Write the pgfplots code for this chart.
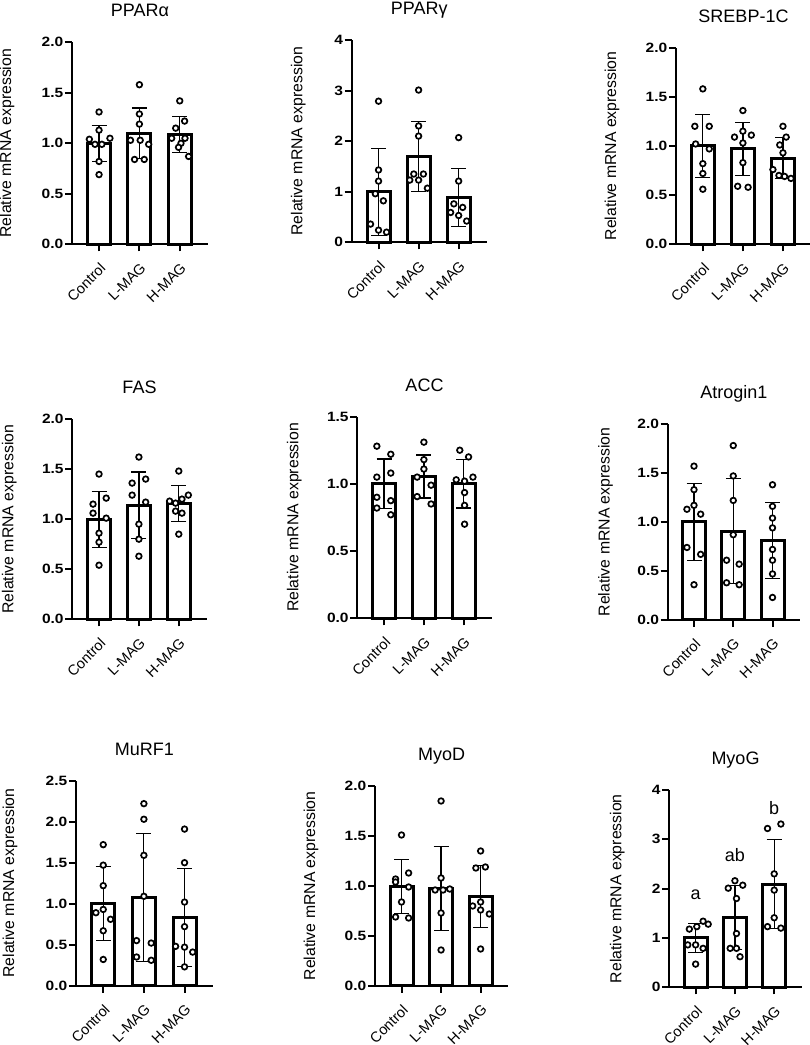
\documentclass[border=0pt]{standalone}
\usepackage{fontspec}
\setmainfont{Liberation Sans}
\newfontfamily\tickfont[FakeStretch=1.15]{Liberation Sans}
\usepackage{pgfplots}
\pgfplotsset{compat=1.18}

\pgfplotsset{
  panel/.style={
    scale only axis,
    xmin=-0.67, xmax=2.7, ymin=0,
    axis lines*=left,
    axis line style={line width=2pt, black},
    tick align=outside,
    major tick length=7pt,
    tick style={line width=2pt, black},
    xtick={0,1,2},
    xticklabels={Control,L-MAG,H-MAG},
    xticklabel shift=9pt,
    xticklabel style={rotate=45, anchor=north east, inner sep=1pt,
      font=\fontsize{14.5}{14.5}\selectfont},
    yticklabel style={font=\tickfont\bfseries\fontsize{13.5}{13.5}\selectfont, inner sep=1.5pt},
    ylabel={Relative mRNA expression},
    ylabel style={font=\fontsize{15.8}{15.8}\selectfont, anchor=center},
    title style={font=\fontsize{18}{18}\selectfont,
      at={(axis description cs:0.5,1)}, anchor=base, yshift=19.5pt},
    clip=false,
    anchor=south west,
  },
  bars/.style={ybar, bar shift=0pt, bar width=23pt, fill=white, draw=black,
    line width=3pt,
    error bars/y dir=both, error bars/y explicit,
    error bars/error bar style={line width=1.2pt, black},
    error bars/error mark options={line width=1.2pt, mark size=7.5pt, black, rotate=90}},
  pts/.style={only marks, mark=*, mark size=2.8pt,
    mark options={fill=white, draw=black, line width=1.7pt}},
}

\begin{document}
\begin{tikzpicture}
\useasboundingbox (0,0) rectangle (810pt,1045pt);

% ---------------- PPARalpha
\begin{axis}[panel, at={(72pt,800.7pt)}, width=136pt, height=202pt,
  ymax=2, ytick={0,0.5,1,1.5,2}, yticklabels={0.0,0.5,1.0,1.5,2.0},
  ylabel style={at={(axis description cs:-0.478,0.5)}}, title={PPARα}]
\addplot[bars] table[x=x, y=m, y error=sd] {
x m sd
0 1.00 0.18
1 1.10 0.25
2 1.085 0.18
};
\addplot[pts] table {
x y
0 1.31
0 1.13
-0.24 1.04
0.27 1.05
-0.1 0.99
0.07 0.99
0 0.82
0 0.69
1 1.58
1 1.29
1 1.19
0.78 1.03
1.02 1.03
1.23 0.99
0.88 0.84
1.12 0.84
2 1.42
2.12 1.22
1.9 1.15
2.03 1.00
1.8 1.05
2.13 1.05
1.97 0.96
2.22 0.87
};
\end{axis}

% ---------------- PPARgamma
\begin{axis}[panel, at={(351.7pt,802.7pt)}, width=135pt, height=202.3pt,
  ymax=4, ytick={0,1,2,3,4}, yticklabels={0,1,2,3,4},
  ylabel style={at={(axis description cs:-0.396,0.5)}}, title={PPARγ}]
\addplot[bars] table[x=x, y=m, y error=sd] {
x m sd
0 1.00 0.86
1 1.70 0.69
2 0.89 0.57
};
\addplot[pts] table {
x y
0 2.79
0 1.43
0 1.21
-0.08 0.96
0.12 0.82
-0.2 0.36
0 0.24
0.2 0.20
1 3.01
1 2.30
1 2.10
0.78 1.23
0.88 1.35
1.0 1.23
1.12 1.35
1.22 1.07
2 2.07
2 1.21
1.88 0.76
2.1 0.69
1.8 0.59
2 0.53
2.2 0.42
};
\end{axis}

% ---------------- SREBP-1C
\begin{axis}[panel, at={(676pt,800.7pt)}, width=135pt, height=196.7pt,
  ymax=2, ytick={0,0.5,1,1.5,2}, yticklabels={0.0,0.5,1.0,1.5,2.0},
  ylabel style={at={(axis description cs:-0.474,0.5)}}, title={SREBP-1C}]
\addplot[bars] table[x=x, y=m, y error=sd] {
x m sd
0 1.00 0.32
1 0.97 0.27
2 0.875 0.21
};
\addplot[pts] table {
x y
0 1.58
-0.2 1.20
0.16 1.20
-0.18 1.02
0.16 0.97
0 0.82
0 0.72
0 0.56
1 1.36
0.79 1.09
1 1.15
1.21 1.11
1 1.03
1 0.83
0.87 0.59
1.13 0.58
2 1.20
2.08 1.09
1.92 1.01
2 0.93
1.75 0.76
1.9 0.70
2.04 0.69
2.2 0.67
};
\end{axis}

% ---------------- FAS
\begin{axis}[panel, at={(72.3pt,425.7pt)}, width=134.4pt, height=200.3pt,
  ymax=2, ytick={0,0.5,1,1.5,2}, yticklabels={0.0,0.5,1.0,1.5,2.0},
  ylabel style={at={(axis description cs:-0.469,0.5)}}, title={FAS}]
\addplot[bars] table[x=x, y=m, y error=sd] {
x m sd
0 1.00 0.28
1 1.14 0.33
2 1.155 0.18
};
\addplot[pts] table {
x y
0 1.45
0.18 1.21
-0.15 1.15
-0.15 1.06
0.18 1.01
0 0.86
0 0.77
0 0.54
1 1.62
0.83 1.36
1.17 1.40
0.83 1.24
1.17 1.17
1 0.95
1 0.80
1 0.63
2 1.48
2.24 1.24
1.77 1.18
2.08 1.20
1.92 1.16
1.92 1.08
2.08 1.06
2 0.85
};
\end{axis}

% ---------------- ACC
\begin{axis}[panel, at={(357.3pt,426.7pt)}, width=134.4pt, height=201.7pt,
  ymax=1.5, ytick={0,0.5,1,1.5}, yticklabels={0.0,0.5,1.0,1.5},
  ylabel style={at={(axis description cs:-0.469,0.5)}}, title={ACC}]
\addplot[bars] table[x=x, y=m, y error=sd] {
x m sd
0 1.00 0.185
1 1.055 0.16
2 1.00 0.18
};
\addplot[pts] table {
x y
-0.18 1.28
0.17 1.22
-0.18 1.05
0.17 1.08
-0.18 0.90
0.17 0.875
-0.18 0.82
0.17 0.77
1 1.31
1 1.18
1 1.11
0.83 1.05
1.18 0.99
0.83 0.905
1.18 0.85
1.9 1.25
2.12 1.20
1.81 1.03
2.02 1.02
2.23 1.05
2.02 0.935
2.02 0.84
2.02 0.70
};
\end{axis}

% ---------------- Atrogin1
\begin{axis}[panel, at={(667.7pt,425pt)}, width=132.3pt, height=196pt,
  ymax=2, ytick={0,0.5,1,1.5,2}, yticklabels={0.0,0.5,1.0,1.5,2.0},
  ylabel style={at={(axis description cs:-0.469,0.5)}}, title={Atrogin1}]
\addplot[bars] table[x=x, y=m, y error=sd] {
x m sd
0 1.00 0.39
1 0.905 0.535
2 0.81 0.385
};
\addplot[pts] table {
x y
0 1.57
0 1.33
-0.18 1.13
0 1.17
0.17 1.08
-0.18 0.74
0.17 0.67
0 0.36
1 1.78
1 1.47
1 1.22
1 0.87
0.83 0.61
1.15 0.57
0.83 0.38
1.15 0.36
2 1.38
2 1.16
2 1.04
2 0.94
2 0.72
2 0.61
2 0.47
2 0.23
};
\end{axis}

% ---------------- MuRF1
\begin{axis}[panel, at={(76pt,59.3pt)}, width=137pt, height=205pt,
  ymax=2.5, ytick={0,0.5,1,1.5,2,2.5}, yticklabels={0.0,0.5,1.0,1.5,2.0,2.5},
  ylabel style={at={(axis description cs:-0.482,0.5)}}, title={MuRF1}]
\addplot[bars] table[x=x, y=m, y error=sd] {
x m sd
0 1.00 0.45
1 1.075 0.78
2 0.83 0.60
};
\addplot[pts] table {
x y
0 1.72
0 1.47
0 1.22
-0.18 0.89
0 0.93
0.18 0.81
0 0.67
0 0.32
1 2.22
1 2.03
1 1.59
1 1.09
0.82 0.55
1.18 0.52
0.82 0.35
1.18 0.31
2 1.91
2 1.50
2 1.02
2 0.72
1.78 0.48
2 0.47
2.2 0.41
2 0.23
};
\end{axis}

% ---------------- MyoD
\begin{axis}[panel, at={(375pt,59pt)}, width=133.3pt, height=200pt,
  ymax=2, ytick={0,0.5,1,1.5,2}, yticklabels={0.0,0.5,1.0,1.5,2.0},
  ylabel style={at={(axis description cs:-0.48,0.5)}}, title={MyoD}]
\addplot[bars] table[x=x, y=m, y error=sd] {
x m sd
0 0.995 0.27
1 0.975 0.42
2 0.895 0.31
};
\addplot[pts] table {
x y
0 1.51
0.18 1.13
-0.15 1.07
-0.15 1.04
0.18 0.99
0 0.84
-0.15 0.69
0.18 0.68
1 1.85
1 1.08
0.85 0.96
1.05 0.96
1.22 0.97
1 0.73
1 0.36
2 1.35
1.88 1.18
2.12 1.19
1.8 0.80
2 0.84
2 0.76
2.22 0.72
2 0.37
};
\end{axis}

% ---------------- MyoG
\begin{axis}[panel, at={(669.3pt,57.7pt)}, width=132.4pt, height=197.3pt,
  ymax=4, ytick={0,1,2,3,4}, yticklabels={0,1,2,3,4},
  ylabel style={at={(axis description cs:-0.393,0.5)}}, title={MyoG}]
\addplot[bars] table[x=x, y=m, y error=sd] {
x m sd
0 1.00 0.30
1 1.415 0.65
2 2.09 0.90
};
\addplot[pts] table {
x y
-0.16 1.18
0.03 1.23
0.19 1.34
0.32 1.28
-0.2 0.86
0.0 0.86
0.19 0.79
0 0.47
0.83 2.01
1 2.16
1.2 2.07
1.04 1.80
1.04 1.09
0.88 0.79
1.04 0.79
1.13 0.62
1.83 3.22
2.17 3.31
2 2.30
2 1.97
2 1.41
1.83 1.23
2.17 1.20
};
\node[font=\fontsize{18}{18}\selectfont] at (axis cs:0,1.87) {a};
\node[font=\fontsize{18}{18}\selectfont] at (axis cs:1,2.68) {ab};
\node[font=\fontsize{18}{18}\selectfont] at (axis cs:2,3.63) {b};
\end{axis}

\end{tikzpicture}
\end{document}
